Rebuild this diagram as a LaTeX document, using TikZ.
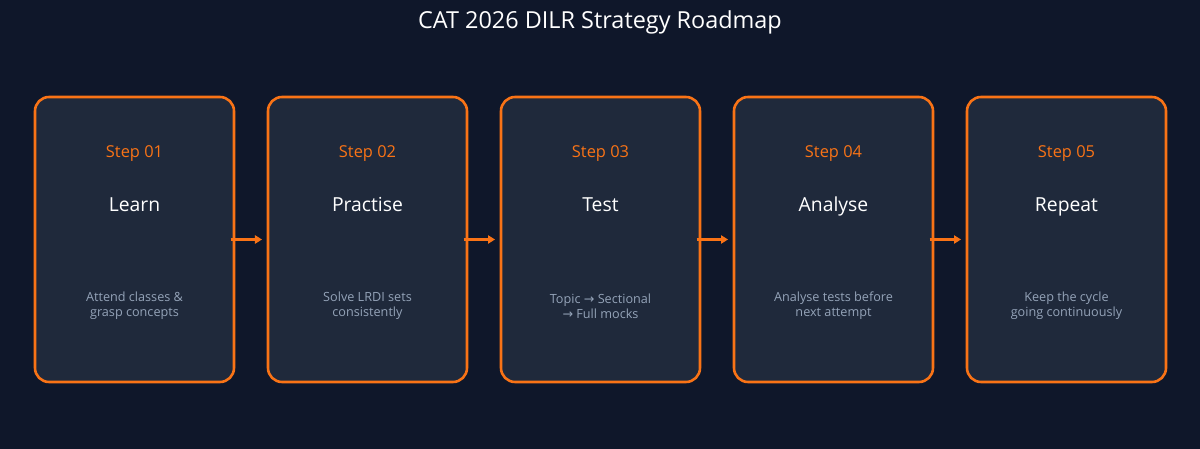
\documentclass[tikz,border=0pt]{standalone}
\usepackage{fontspec}
\setmainfont{Open Sans}
\newfontfamily\symfont{DejaVu Sans}
\usetikzlibrary{arrows.meta,positioning}
\definecolor{bgdark}{HTML}{0F172A}
\definecolor{boxfill}{HTML}{1F293B}
\definecolor{accent}{HTML}{F97316}
\definecolor{desc}{HTML}{94A3B8}
\newcommand{\rarr}{{\symfont →}}
\begin{document}
\begin{tikzpicture}[x=0.03cm,y=0.03cm,
  stepbox/.style={draw=accent, fill=boxfill, line width=2.2pt, rounded corners=12pt,
    minimum width=199*0.03cm, minimum height=285*0.03cm, inner sep=0pt},
  steptag/.style={text=accent, anchor=base, font=\fontsize{14}{16}\selectfont},
  steptitle/.style={text=white, anchor=base, font=\fontsize{16.5}{19}\selectfont},
  stepdesc/.style={text=desc, font=\fontsize{10.8}{13}\selectfont, align=center},
  flow/.style={draw=accent, line width=2.2pt, -{Triangle[length=6pt,width=7pt]}}]

  % Background of the scheme
  \fill[bgdark] (0,0) rectangle (1200,449) ;
  \useasboundingbox (0,0) rectangle (1200,449) ;

  \node[text=white, font=\fontsize{20}{24}\selectfont] (title) at (600,427) {CAT 2026 DILR Strategy Roadmap} ;

  %%%%%%%%%%%%%%%%%%%%%%%%%%%%%%%%% Boxes of the steps %%%%%%%%%%%%%%%%%%%%%%%%%%%%%%%%%%%%
  \foreach \i/\name/\txt in {1/Learn/{Attend classes \&\\grasp concepts},
                             2/Practise/{Solve LRDI sets\\consistently},
                             3/Test/{Topic \rarr\ Sectional\\\rarr\ Full mocks},
                             4/Analyse/{Analyse tests before\\next attempt},
                             5/Repeat/{Keep the cycle\\going continuously}} {
    \node[stepbox] (s\i) at ({134.5+233*(\i-1)},209.5) {} ;
    \node[steptag] (t\i) at ({134.5+233*(\i-1)},291) {Step 0\i} ;
    \node[steptitle] (n\i) at ({134.5+233*(\i-1)},237) {\name} ;
    \node[stepdesc] (d\i) at ({134.5+233*(\i-1)},143) {\txt} ;
  }

  %%%%%%%%%%%%%%%%%%%%%%%%%%%%%%%%% Arrows between steps %%%%%%%%%%%%%%%%%%%%%%%%%%%%%%%%%%
  \foreach \i/\j in {1/2,2/3,3/4,4/5} {
    \draw[flow, shorten <=-4pt, shorten >=4pt] (s\i.east) -- (s\j.west) ;
  }

\end{tikzpicture}
\end{document}
